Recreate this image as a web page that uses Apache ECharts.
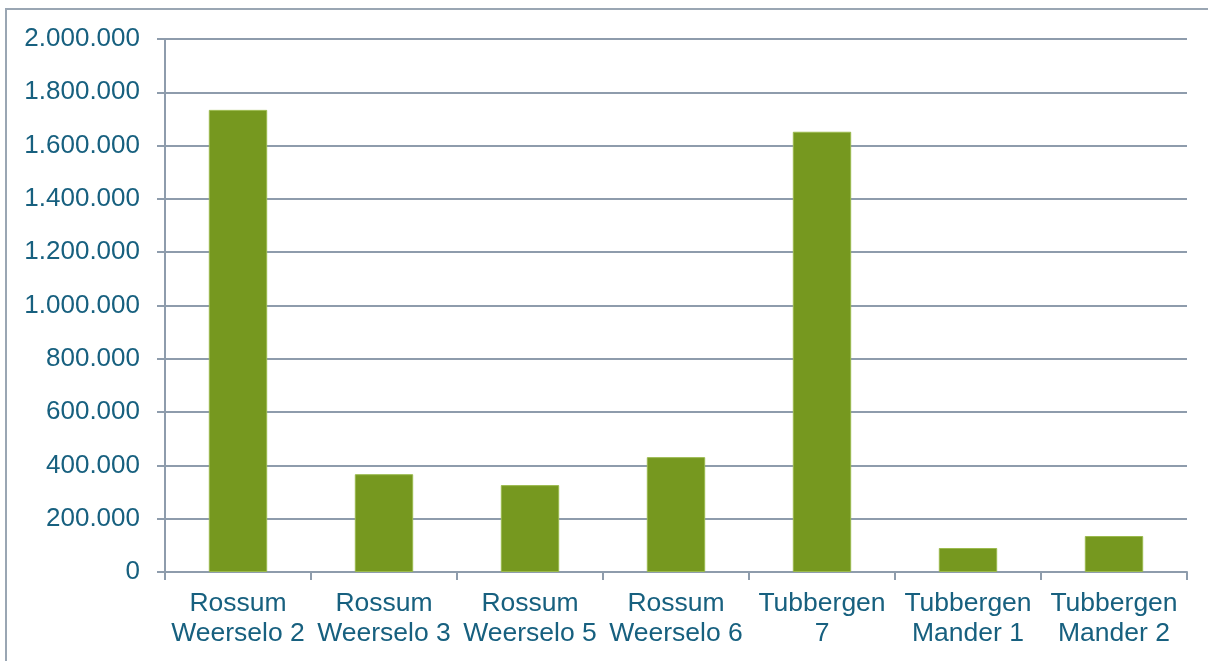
<!DOCTYPE html>
<html lang="nl">
<head>
  <meta charset="utf-8" />
  <title>Rossum / Tubbergen</title>
  <script src="https://cdn.jsdelivr.net/npm/echarts@6.0.0/dist/echarts.min.js"></script>
  <style>
    html, body { margin: 0; padding: 0; background: #fff; }
  </style>
</head>
<body>
  <div id="main" style="width: 1208px;height:661px;"></div>
  <script>
    var categories = [
      'Rossum\nWeerselo 2', 'Rossum\nWeerselo 3', 'Rossum\nWeerselo 5', 'Rossum\nWeerselo 6',
      'Tubbergen\n7', 'Tubbergen\nMander 1', 'Tubbergen\nMander 2'
    ];
    var values = [1734000, 367000, 326000, 431000, 1652000, 90000, 135000];

    var textColor = '#17607F';
    var lineColor = '#8E9CAC';

    function fmt(v) {
      return String(v).replace(/\B(?=(\d{3})+(?!\d))/g, '.');
    }

    var chartDom = document.getElementById('main');
    var myChart = echarts.init(chartDom);
    var option = {
      animation: false,
      textStyle: { fontFamily: '"Liberation Sans", Arial, sans-serif' },
      graphic: [{
        type: 'rect',
        shape: { x: 6, y: 9, width: 1220, height: 680 },
        style: { fill: 'none', stroke: '#9AA6B3', lineWidth: 2 },
        silent: true
      }],
      grid: { left: 165, right: 21, top: 39, bottom: 89 },
      xAxis: {
        type: 'category',
        data: categories,
        axisLine: { lineStyle: { color: lineColor, width: 2 } },
        axisTick: { show: true, length: 8, lineStyle: { color: lineColor, width: 2 } },
        axisLabel: {
          color: textColor, fontSize: 26.5, lineHeight: 30, margin: 17, interval: 0
        }
      },
      yAxis: {
        type: 'value',
        min: 0, max: 2000000, interval: 200000,
        axisLine: { show: true, lineStyle: { color: lineColor, width: 2 } },
        axisTick: { show: true, length: 8, lineStyle: { color: lineColor, width: 2 } },
        splitLine: { lineStyle: { color: lineColor, width: 2 } },
        axisLabel: { color: textColor, fontSize: 26, margin: 25, formatter: fmt }
      },
      series: [{
        type: 'bar',
        data: values,
        barWidth: '40%',
        itemStyle: { color: '#76981F', borderColor: '#9BBA4E', borderWidth: 1 }
      }]
    };
    myChart.setOption(option);
  </script>
</body>
</html>
